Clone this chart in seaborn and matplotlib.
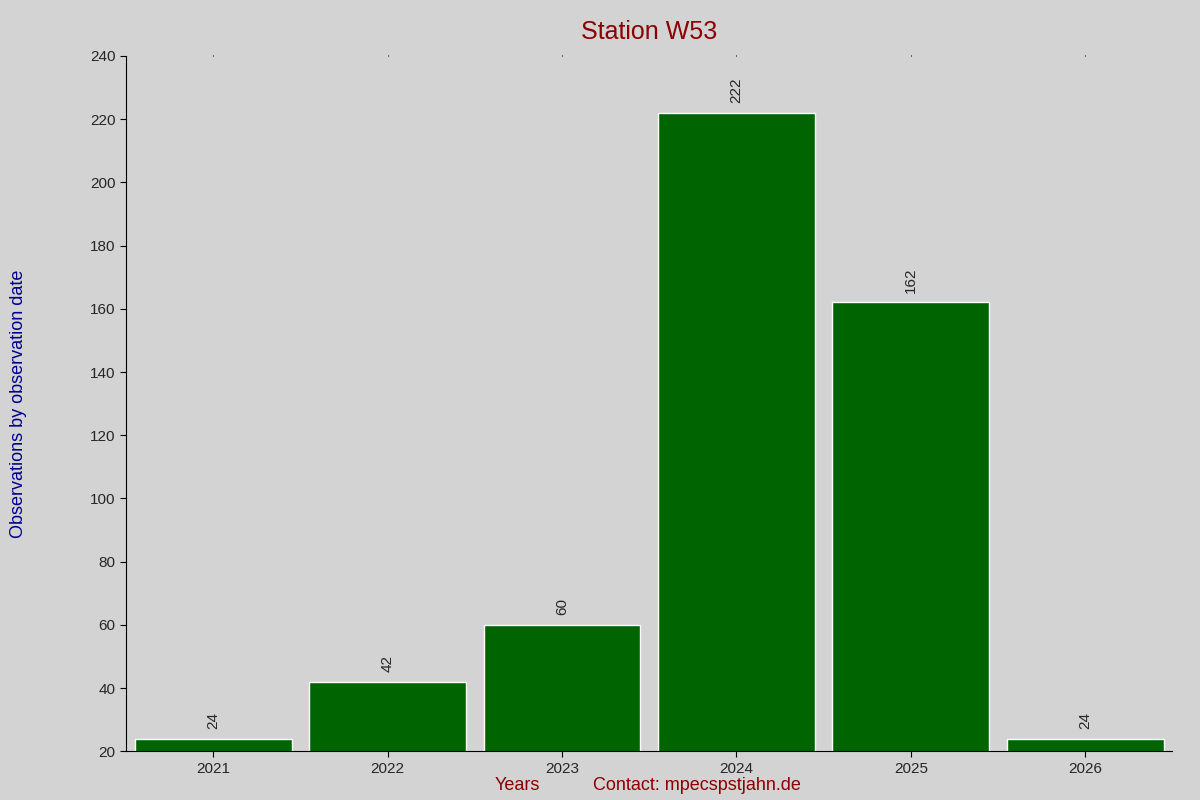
import pandas as pd
import matplotlib.pyplot as plt
import seaborn as sns

years = ['2021', '2022', '2023', '2024', '2025', '2026']
observations = [24, 42, 60, 222, 162, 24]

sns.set_style('ticks')
plt.rcParams['font.family'] = ['Liberation Sans', 'DejaVu Sans']

df = pd.DataFrame({'year': years, 'obs': observations})

fig = plt.figure(figsize=(12, 8), dpi=100, facecolor='#d3d3d3')
ax = fig.add_axes([0.105, 0.061, 0.872, 0.869])
ax.set_facecolor('#d3d3d3')

sns.barplot(data=df, x='year', y='obs', color='#006400', saturation=1,
            width=0.9, ax=ax)

for i, v in enumerate(observations):
    ax.text(i, v + 3, str(v), rotation=90, ha='center', va='bottom', fontsize=11)

ax.set_xlim(-0.5, 5.5)
ax.set_ylim(20, 240)
ax.set_yticks(range(20, 241, 20))
ax.tick_params(labelsize=11, length=4, color='black')
sns.despine(ax=ax)
ax.spines['left'].set_color('black')
ax.spines['bottom'].set_color('black')
ax.set_xlabel('')
ax.set_ylabel('Observations by observation date', color='#00008b', fontsize=13)
ax.yaxis.set_label_coords(-0.095, 0.5)

# tiny marks along the top edge
sec = ax.secondary_xaxis('top')
sec.set_xticks(range(len(years)))
sec.set_xticklabels([])
sec.tick_params(length=1, color='black')
sec.spines['top'].set_visible(False)

ax.set_title('Station W53', color='#8b0000', fontsize=18, pad=12)
fig.text(517 / 1200, 14 / 800, 'Years', color='#8b0000', fontsize=13, ha='center', va='center')
fig.text(697 / 1200, 14 / 800, 'Contact: mpecspstjahn.de', color='#8b0000', fontsize=13,
         ha='center', va='center')

fig.savefig('out.png', dpi=100, facecolor=fig.get_facecolor())
